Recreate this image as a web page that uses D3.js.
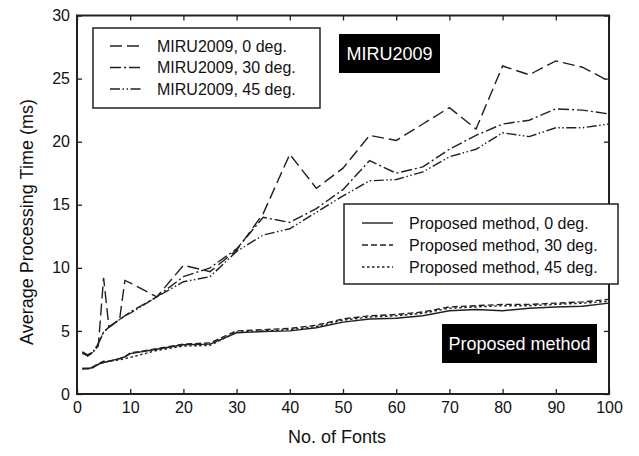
<!DOCTYPE html>
<html>
<head>
<meta charset="utf-8">
<script src="https://cdn.jsdelivr.net/npm/d3@7"></script>
<style>
  html, body { margin: 0; padding: 0; background: #fff; }
  svg { display: block; font-family: "Liberation Sans", Arial, sans-serif; }
</style>
</head>
<body>
<svg id="chart" width="639" height="456"></svg>
<script>
// Number of fonts at which processing time was measured
const fonts = [1,2,3,4,5,6,7,8,9,10,15,20,25,30,35,40,45,50,55,60,65,70,75,80,85,90,95,100];

// Average processing time (ms), MIRU2009 method
const miru0  = [3.35,3.1,3.3,3.8,9.2,5.3,5.6,5.9,9.0,8.8,7.7,10.2,9.7,11.4,14.3,19.0,16.3,17.9,20.5,20.1,21.4,22.7,21.0,26.0,25.3,26.4,25.9,24.8];
const miru30 = [3.3,3.0,3.3,4.0,4.9,5.3,5.6,5.9,6.2,6.5,7.7,9.3,10.0,11.5,14.0,13.6,14.7,16.2,18.5,17.5,18.0,19.4,20.5,21.4,21.7,22.6,22.5,22.2];
const miru45 = [3.2,3.1,3.3,4.0,4.9,5.3,5.6,5.9,6.2,6.4,7.7,8.9,9.3,11.3,12.6,13.1,14.4,15.7,16.9,17.0,17.6,18.8,19.4,20.7,20.4,21.1,21.1,21.4];

// Average processing time (ms), proposed method
const prop0  = [2.0,2.0,2.1,2.35,2.5,2.6,2.7,2.8,2.95,3.2,3.55,3.9,3.95,4.85,4.95,5.0,5.25,5.7,5.95,6.0,6.2,6.6,6.7,6.6,6.8,6.9,6.95,7.2];
const prop30 = [2.05,2.05,2.15,2.4,2.6,2.6,2.7,2.8,2.95,3.25,3.6,3.95,4.05,5.0,5.1,5.2,5.45,5.95,6.2,6.3,6.5,6.9,7.0,7.1,7.1,7.2,7.3,7.5];
const prop45 = [2.0,2.0,2.1,2.35,2.5,2.6,2.65,2.7,2.8,2.9,3.45,3.8,3.85,4.9,5.0,5.1,5.35,5.85,6.1,6.2,6.4,6.8,6.9,7.0,7.0,7.1,7.2,7.35];

const xTicks = [0,10,20,30,40,50,60,70,80,90,100];
const yTicks = [0,5,10,15,20,25,30];

const miruLabels = ["MIRU2009, 0 deg.", "MIRU2009, 30 deg.", "MIRU2009, 45 deg."];
const propLabels = ["Proposed method, 0 deg.", "Proposed method, 30 deg.", "Proposed method, 45 deg."];

const ink = "#231f20";
const dashes = {
  m0: "12,5",
  m30: "11,3,2,3",
  m45: "10,2.5,1.5,2.5,1.5,2.5",
  p0: null,
  p30: "6,3",
  p45: "2.5,2.5"
};

const svg = d3.select("#chart");
const L = 77, R = 609, T = 15.5, B = 394;

const x = d3.scaleLinear().domain([0, 100]).range([L, R]);
const y = d3.scaleLinear().domain([0, 30]).range([B, T]);

// Axes with inward ticks on all four sides
const axisStyle = g => {
  g.selectAll(".domain").remove();
  g.selectAll(".tick line").attr("stroke", ink).attr("stroke-width", 1.3);
  g.selectAll(".tick text").attr("fill", "#111").attr("font-size", 16);
};

svg.append("g").attr("transform", `translate(0,${B})`)
  .call(d3.axisBottom(x).tickValues(xTicks).tickSizeInner(-5).tickSizeOuter(0).tickPadding(8))
  .call(axisStyle);
svg.append("g").attr("transform", `translate(0,${T})`)
  .call(d3.axisTop(x).tickValues(xTicks).tickSizeInner(-5).tickSizeOuter(0).tickFormat(""))
  .call(axisStyle);
svg.append("g").attr("transform", `translate(${L},0)`)
  .call(d3.axisLeft(y).tickValues(yTicks).tickSizeInner(-5).tickSizeOuter(0).tickPadding(7))
  .call(axisStyle);
svg.append("g").attr("transform", `translate(${R},0)`)
  .call(d3.axisRight(y).tickValues(yTicks).tickSizeInner(-5).tickSizeOuter(0).tickFormat(""))
  .call(axisStyle);

svg.append("rect")
  .attr("x", L).attr("y", T).attr("width", R - L).attr("height", B - T)
  .attr("fill", "none").attr("stroke", ink).attr("stroke-width", 2);

// Axis titles
svg.append("text")
  .attr("x", (L + R) / 2 - 6).attr("y", 443)
  .attr("text-anchor", "middle").attr("font-size", 18).attr("fill", "#111")
  .text("No. of Fonts");
svg.append("text")
  .attr("transform", "translate(33,222) rotate(-90)")
  .attr("text-anchor", "middle").attr("font-size", 18).attr("fill", "#111")
  .text("Average Processing Time (ms)");

// Series lines
const line = d3.line().x((d, i) => x(fonts[i])).y(d => y(d));
const series = [
  { v: miru0, d: dashes.m0 }, { v: miru30, d: dashes.m30 }, { v: miru45, d: dashes.m45 },
  { v: prop0, d: dashes.p0 }, { v: prop30, d: dashes.p30 }, { v: prop45, d: dashes.p45 }
];
svg.append("g").selectAll("path").data(series).join("path")
  .attr("d", s => line(s.v))
  .attr("fill", "none").attr("stroke", ink).attr("stroke-width", 1.4)
  .attr("stroke-dasharray", s => s.d);

// Legends
function legend(bx, by, bw, bh, labels, dash, lx0, lx1, tx, rows) {
  const g = svg.append("g");
  g.append("rect").attr("x", bx).attr("y", by).attr("width", bw).attr("height", bh)
    .attr("fill", "#fff").attr("stroke", ink).attr("stroke-width", 1.5);
  labels.forEach((t, i) => {
    g.append("line").attr("x1", lx0).attr("x2", lx1).attr("y1", rows[i]).attr("y2", rows[i])
      .attr("stroke", ink).attr("stroke-width", 1.4).attr("stroke-dasharray", dash[i]);
    g.append("text").attr("x", tx).attr("y", rows[i]).attr("dy", "0.35em")
      .attr("font-size", 16).attr("fill", "#111").text(t);
  });
}
legend(93, 28, 227, 80, miruLabels, [dashes.m0, dashes.m30, dashes.m45], 110, 142, 157, [46, 67.5, 89]);
legend(344, 204, 274, 80, propLabels, [dashes.p0, dashes.p30, dashes.p45], 362, 393, 409, [223, 245, 267]);

// Black tags naming each group of curves
function tag(bx, by, bw, bh, t) {
  svg.append("rect").attr("x", bx).attr("y", by).attr("width", bw).attr("height", bh).attr("fill", "#000");
  svg.append("text").attr("x", bx + bw / 2).attr("y", by + bh / 2).attr("dy", "0.36em")
    .attr("text-anchor", "middle").attr("font-size", 18).attr("fill", "#fff").text(t);
}
tag(339, 34, 101, 39, "MIRU2009");
tag(442, 324, 155, 39, "Proposed method");
</script>
</body>
</html>
